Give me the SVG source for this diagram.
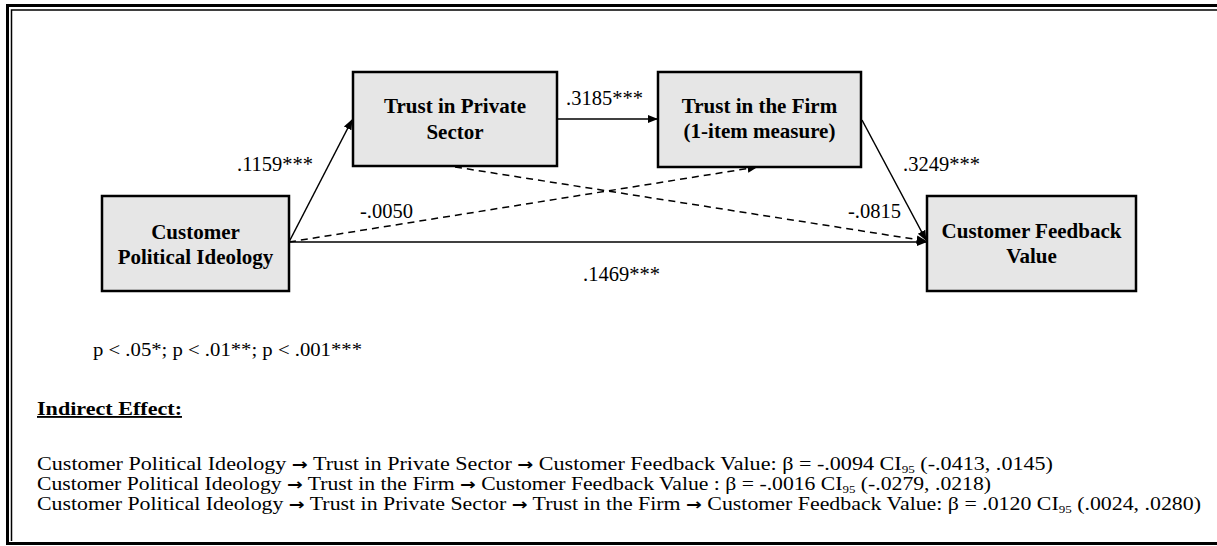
<svg xmlns="http://www.w3.org/2000/svg" width="1217" height="546" viewBox="0 0 1217 546">
  <style>
    .node rect { fill: #e6e6e6; stroke: #000; stroke-width: 2.5; }
    .node text { font-family: "Liberation Serif", "Times New Roman", serif; font-weight: bold; font-size: 21px; text-anchor: middle; fill: #000; }
    .edge { stroke: #000; stroke-width: 1.5; fill: none; }
    .dash { stroke-dasharray: 7 5; }
    .lbl { font-family: "Liberation Serif", "Times New Roman", serif; font-size: 20.5px; fill: #000; }
    .note { font-family: "Liberation Serif", "Times New Roman", serif; font-size: 18.5px; fill: #000; }
    .arr { font-family: "DejaVu Sans", sans-serif; font-weight: bold; font-size: 16px; }
    .sub { font-size: 11px; }
    .frame { fill: none; stroke: #000; }
  </style>
  <defs>
    <marker id="arrow" viewBox="0 0 10 10" refX="9" refY="5" markerWidth="7" markerHeight="7" orient="auto" markerUnits="strokeWidth">
      <path d="M0,1 L10,5 L0,9 z" fill="#000"/>
    </marker>
  </defs>

  <rect width="1217" height="546" fill="#fff"/>

  <!-- double frame, open on the right -->
  <g id="frame">
    <path class="frame" d="M1220,5.5 H7.5 V543.5 H1220" stroke-width="3"/>
    <path class="frame" d="M1220,10 H11.5 V541" stroke-width="1.5"/>
  </g>

  <!-- connectors -->
  <g id="connectors">
    <line class="edge" x1="289" y1="242" x2="352" y2="120" marker-end="url(#arrow)"/>
    <line class="edge dash" x1="289" y1="242" x2="757" y2="167" marker-end="url(#arrow)"/>
    <line class="edge" x1="289" y1="242" x2="926" y2="242" marker-end="url(#arrow)"/>
    <line class="edge" x1="557" y1="119" x2="657" y2="119" marker-end="url(#arrow)"/>
    <line class="edge dash" x1="455" y1="167" x2="926" y2="241" marker-end="url(#arrow)"/>
    <line class="edge" x1="862" y1="120" x2="926" y2="240" marker-end="url(#arrow)"/>
  </g>

  <g id="edge-labels">
    <text class="lbl" x="237" y="171">.1159***</text>
    <text class="lbl" x="566" y="105">.3185***</text>
    <text class="lbl" x="903" y="171">.3249***</text>
    <text class="lbl" x="360" y="218">-.0050</text>
    <text class="lbl" x="848" y="218">-.0815</text>
    <text class="lbl" x="583" y="281">.1469***</text>
  </g>

  <g id="node-ideology" class="node">
    <rect x="102" y="196" width="187" height="95"/>
    <text x="195.5" y="239">Customer</text>
    <text x="195.5" y="264">Political Ideology</text>
  </g>

  <g id="node-private" class="node">
    <rect x="353" y="72" width="204" height="94"/>
    <text x="455" y="113">Trust in Private</text>
    <text x="455" y="139">Sector</text>
  </g>

  <g id="node-firm" class="node">
    <rect x="658" y="72" width="203" height="95"/>
    <text x="759.5" y="113">Trust in the Firm</text>
    <text x="759.5" y="138">(1-item measure)</text>
  </g>

  <g id="node-feedback" class="node">
    <rect x="927" y="196" width="209" height="95"/>
    <text x="1031.5" y="238">Customer Feedback</text>
    <text x="1031.5" y="263">Value</text>
  </g>

  <g id="notes">
    <text class="note" x="93" y="356" textLength="269" lengthAdjust="spacingAndGlyphs">p &lt; .05*; p &lt; .01**; p &lt; .001***</text>
    <text class="note" x="37" y="415" font-weight="bold" text-decoration="underline" textLength="145" lengthAdjust="spacingAndGlyphs">Indirect Effect:</text>
    <text class="note" x="37" y="470" textLength="1016" lengthAdjust="spacingAndGlyphs">Customer Political Ideology <tspan class="arr">→</tspan> Trust in Private Sector <tspan class="arr">→</tspan> Customer Feedback Value: β = -.0094 CI<tspan class="sub" dy="2.5">95</tspan><tspan dy="-2.5"> (-.0413, .0145)</tspan></text>
    <text class="note" x="37" y="490" textLength="954" lengthAdjust="spacingAndGlyphs">Customer Political Ideology <tspan class="arr">→</tspan> Trust in the Firm <tspan class="arr">→</tspan> Customer Feedback Value : β = -.0016 CI<tspan class="sub" dy="2.5">95</tspan><tspan dy="-2.5"> (-.0279, .0218)</tspan></text>
    <text class="note" x="37" y="510" textLength="1164" lengthAdjust="spacingAndGlyphs">Customer Political Ideology <tspan class="arr">→</tspan> Trust in Private Sector <tspan class="arr">→</tspan> Trust in the Firm <tspan class="arr">→</tspan> Customer Feedback Value: β = .0120 CI<tspan class="sub" dy="2.5">95</tspan><tspan dy="-2.5"> (.0024, .0280)</tspan></text>
  </g>
</svg>
